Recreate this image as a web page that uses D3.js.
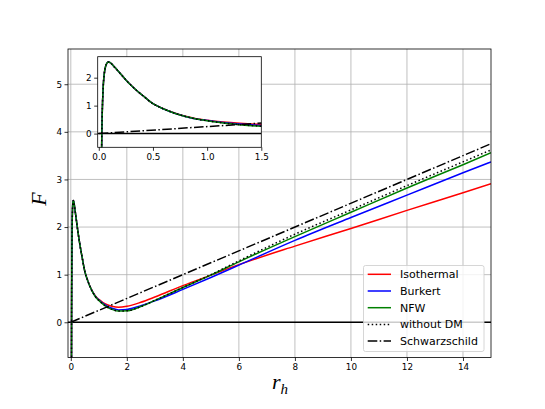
<!DOCTYPE html>
<html>
<head>
<meta charset="utf-8">
<script src="https://cdn.jsdelivr.net/npm/d3@7"></script>
<style>
  body { margin: 0; background: #fff; }
  text { font-family: "DejaVu Sans", sans-serif; }
</style>
</head>
<body>
<script>
// Horizon radius samples shared by the four models
var rh = [0.02, 0.025, 0.028, 0.031, 0.035, 0.042, 0.05, 0.06, 0.075, 0.09, 0.105, 0.12, 0.15, 0.2, 0.25, 0.3, 0.35, 0.4, 0.5, 0.6, 0.7, 0.8, 0.9, 1.0, 1.15, 1.3, 1.5, 1.7, 2.0, 2.5, 3, 4, 5, 6, 8, 10, 12, 14, 15];

// Free energy values
var isothermalF = [-3, -0.9, 0, 0.6, 1.15, 1.75, 2.12, 2.36, 2.52, 2.56, 2.54, 2.49, 2.36, 2.14, 1.92, 1.72, 1.54, 1.38, 1.07, 0.885, 0.735, 0.62, 0.535, 0.48, 0.415, 0.37, 0.33, 0.315, 0.335, 0.42, 0.53, 0.77, 0.99, 1.21, 1.60, 1.97, 2.35, 2.72, 2.91];
var burkertF = [-3, -0.9, 0, 0.6, 1.15, 1.75, 2.12, 2.36, 2.52, 2.56, 2.54, 2.49, 2.36, 2.14, 1.92, 1.72, 1.54, 1.38, 1.07, 0.88, 0.73, 0.615, 0.525, 0.47, 0.395, 0.34, 0.29, 0.26, 0.27, 0.35, 0.45, 0.69, 0.94, 1.20, 1.72, 2.20, 2.67, 3.14, 3.37];
var nfwF = [-3, -0.9, 0, 0.6, 1.15, 1.75, 2.12, 2.36, 2.52, 2.56, 2.54, 2.49, 2.36, 2.14, 1.92, 1.72, 1.54, 1.38, 1.07, 0.88, 0.73, 0.61, 0.52, 0.46, 0.38, 0.32, 0.265, 0.235, 0.24, 0.33, 0.46, 0.73, 0.99, 1.27, 1.80, 2.31, 2.82, 3.31, 3.56];
var withoutDmF = [-3, -0.9, 0, 0.6, 1.15, 1.75, 2.12, 2.36, 2.52, 2.56, 2.54, 2.49, 2.36, 2.14, 1.92, 1.72, 1.54, 1.38, 1.07, 0.88, 0.73, 0.61, 0.52, 0.46, 0.38, 0.32, 0.265, 0.235, 0.24, 0.33, 0.46, 0.73, 1.00, 1.29, 1.85, 2.36, 2.87, 3.37, 3.62];
var schwRh = [0, 15];
var schwF = [0, 3.75];

// Tick labels
var xTicks = [0, 2, 4, 6, 8, 10, 12, 14];
var yTicks = [0, 1, 2, 3, 4, 5];
var insetXTicks = [0, 0.5, 1.0, 1.5];
var insetYTicks = [0, 1, 2];

var seriesNames = ["Isothermal", "Burkert", "NFW", "without DM", "Schwarzschild"];

var svgWidth = 545;
var svgHeight = 409;

var svg = d3.select("body")
  .append("svg")
  .attr("width", svgWidth)
  .attr("height", svgHeight);

// Series styles
var styles = [
  { color: "#ff0000", dash: null },
  { color: "#0000ff", dash: null },
  { color: "#008000", dash: null },
  { color: "#000000", dash: "1.5,2.5" },
  { color: "#000000", dash: "9.6,2.4,1.5,2.4" }
];

function buildSeries() {
  var ys = [isothermalF, burkertF, nfwF, withoutDmF];
  var out = ys.map(function(arr) {
    return rh.map(function(x, i) { return [x, arr[i]]; });
  });
  out.push(schwRh.map(function(x, i) { return [x, schwF[i]]; }));
  return out;
}
var series = buildSeries();

// Draws one panel (main or inset)
function drawPanel(box, xDomain, yDomain, xt, yt, xFmt, fontSize, grid, id) {
  var xScale = d3.scaleLinear().domain(xDomain).range([box.left, box.right]);
  var yScale = d3.scaleLinear().domain(yDomain).range([box.bottom, box.top]);

  var g = svg.append("g");

  g.append("rect")
    .attr("x", box.left).attr("y", box.top)
    .attr("width", box.right - box.left).attr("height", box.bottom - box.top)
    .attr("fill", "#fff");

  g.append("clipPath").attr("id", id)
    .append("rect")
    .attr("x", box.left).attr("y", box.top)
    .attr("width", box.right - box.left).attr("height", box.bottom - box.top);

  if (grid) {
    g.append("g").selectAll("line").data(xt).enter().append("line")
      .attr("x1", d => xScale(d)).attr("x2", d => xScale(d))
      .attr("y1", box.top).attr("y2", box.bottom)
      .attr("stroke", "#b0b0b0").attr("stroke-width", 0.8);
    g.append("g").selectAll("line").data(yt).enter().append("line")
      .attr("y1", d => yScale(d)).attr("y2", d => yScale(d))
      .attr("x1", box.left).attr("x2", box.right)
      .attr("stroke", "#b0b0b0").attr("stroke-width", 0.8);
  }

  var plot = g.append("g").attr("clip-path", "url(#" + id + ")");

  var line = d3.line()
    .x(d => xScale(d[0]))
    .y(d => yScale(d[1]))
    .curve(d3.curveMonotoneX);

  // y = 0 reference line
  plot.append("line")
    .attr("x1", box.left).attr("x2", box.right)
    .attr("y1", yScale(0)).attr("y2", yScale(0))
    .attr("stroke", "#000").attr("stroke-width", 1.5);

  series.forEach(function(s, i) {
    plot.append("path")
      .datum(s)
      .attr("d", line)
      .attr("fill", "none")
      .attr("stroke", styles[i].color)
      .attr("stroke-width", 1.5)
      .attr("stroke-dasharray", styles[i].dash);
  });

  var bottomAxis = d3.axisBottom(xScale).tickValues(xt).tickFormat(xFmt)
    .tickSizeInner(3.5).tickSizeOuter(0).tickPadding(2.5);
  var leftAxis = d3.axisLeft(yScale).tickValues(yt).tickFormat(d3.format("d"))
    .tickSizeInner(3.5).tickSizeOuter(0).tickPadding(2.5);

  var xa = g.append("g")
    .attr("transform", `translate(0, ${box.bottom})`)
    .call(bottomAxis);
  var ya = g.append("g")
    .attr("transform", `translate(${box.left}, 0)`)
    .call(leftAxis);
  [xa, ya].forEach(function(a) {
    a.select(".domain").remove();
    a.selectAll("text").attr("font-size", fontSize).attr("fill", "#000")
      .attr("font-family", "DejaVu Sans");
    a.selectAll("line").attr("stroke", "#000").attr("stroke-width", 0.8);
  });

  g.append("rect")
    .attr("x", box.left).attr("y", box.top)
    .attr("width", box.right - box.left).attr("height", box.bottom - box.top)
    .attr("fill", "none").attr("stroke", "#000").attr("stroke-width", 0.8);

  return g;
}

// Main axes
var mainBox = { left: 68, right: 491, top: 49, bottom: 357.5 };
drawPanel(mainBox, [-0.1, 15], [-0.74, 5.74], xTicks, yTicks, d3.format("d"), "8.8px", true, "clipMain");

// Axis labels
svg.append("text")
  .attr("transform", "translate(46, 199) rotate(-90)")
  .attr("text-anchor", "middle")
  .attr("font-family", "Liberation Serif")
  .attr("font-style", "italic")
  .attr("font-size", "22px")
  .style("font-family", "Liberation Serif")
  .text("F");

var xl = svg.append("text")
  .attr("x", 272)
  .attr("y", 389)
  .attr("font-style", "italic")
  .attr("font-size", "22px")
  .style("font-family", "Liberation Serif");
xl.append("tspan").text("r");
xl.append("tspan").attr("dy", 5).attr("font-size", "15px").text("h");

// Legend
var legend = svg.append("g");
legend.append("rect")
  .attr("x", 363.5).attr("y", 265.5)
  .attr("width", 120.5).attr("height", 86)
  .attr("rx", 2)
  .attr("fill", "#fff").attr("fill-opacity", 0.8)
  .attr("stroke", "#cccccc").attr("stroke-width", 0.8);

seriesNames.forEach(function(name, i) {
  var y = 274.3 + i * 16.7;
  legend.append("line")
    .attr("x1", 367.7).attr("x2", 391)
    .attr("y1", y).attr("y2", y)
    .attr("stroke", styles[i].color)
    .attr("stroke-width", 1.5)
    .attr("stroke-dasharray", styles[i].dash);
  legend.append("text")
    .attr("x", 400).attr("y", y)
    .attr("dy", "0.36em")
    .attr("font-size", "11px")
    .text(name);
});

// Inset axes
var insetBox = { left: 97.7, right: 261.3, top: 56.7, bottom: 147.3 };
drawPanel(insetBox, [-0.01, 1.5], [-0.49, 2.75], insetXTicks, insetYTicks, d3.format(".1f"), "8.8px", false, "clipInset");
</script>
</body>
</html>
